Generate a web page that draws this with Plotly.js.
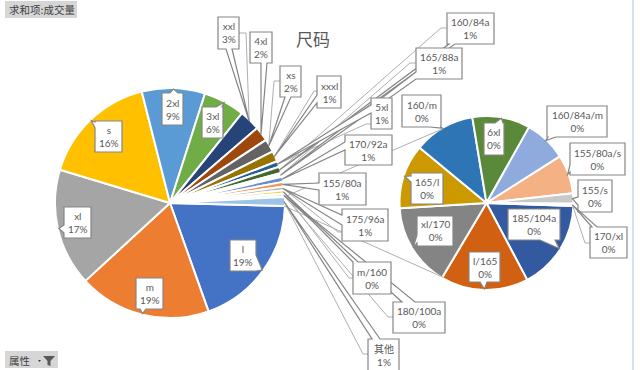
<!DOCTYPE html>
<html><head><meta charset="utf-8">
<script src="https://cdn.plot.ly/plotly-3.0.1.min.js"></script>
<style>html,body{margin:0;padding:0;background:#fff;overflow:hidden}#c{width:640px;height:370px}</style>
</head><body><div id="c"></div>
<script>
// ---- data ----
const sizeLabels = ['l','m','xl','s','2xl','3xl','xxl','4xl','xs','xxxl','5xl','160/84a','165/88a','170/92a','155/80a','175/96a','m/160','180/100a','其他'];
const sizeValues = [19.17,18.61,16.53,16.39,8.89,5.83,2.94,2.06,1.86,1.49,0.80,0.92,0.53,0.72,0.64,0.53,0.47,0.47,1.25];
const sizeColors = ['#4472C4','#ED7D31','#A5A5A5','#FFC000','#5B9BD5','#70AD47','#264478','#9E480E','#636363','#997300','#255E91','#43682B','#F8FAFD','#698ED0','#F1975A','#B7B7B7','#FFCD33','#EEF4FA','#9DC3E6'];
const detailLabels = ['185/104a','l/165','xl/170','165/l','160/m','6xl','160/84a/m','155/80a/s','155/s','170/xl'];
const detailValues = [0.208,0.203,0.193,0.149,0.142,0.134,0.098,0.090,0.024,0.005];
const detailColors = ['#335AA1','#D26012','#848484','#CC9A00','#2E75B6','#5A8A39','#8FAADC','#F4B183','#C9C9C9','#FFD966'];

// ---- layout constants ----
const W=640,H=370;
const bigPie={cx:170,cy:203,r:114,rot:91.5};
const smallPie={cx:486.5,cy:203,r:86,rot:92};
const textColor='#595959', boxLine='#858585', leaderLine='#AFAFAF';
// labels whose wedges run behind another label's box are drawn first
const drawFirst=['160/84a','165/88a','180/100a'];
// box: x0,y0,x1,y1 ; wedge side and its base span ; optional elbow leader [startX,startY,elbowX,elbowY]
const callouts={
 'xxl':{b:[218,17,239,49],s:'b',a:226,e:232,l:[239,33,246,33]},
 '4xl':{b:[250,32,272,63],s:'b',a:261,e:267},
 'xs':{b:[280,66,301,97],s:'b',a:285,e:291,l:[280,81,274,81]},
 'xxxl':{b:[317,76,341,108],s:'l',a:95,e:103,l:[317,91,314,91]},
 '5xl':{b:[371,98,392,129],s:'l',a:105,e:113,l:[371,124,366,124]},
 '160/84a':{b:[447,13,494,44],s:'b',a:449,e:455,l:[447,28,441,28]},
 '165/88a':{b:[416,48,462,79],s:'l',a:72,e:79,l:[416,63,410,63]},
 '170/92a':{b:[345,135,392,165],s:'l',a:142,e:150},
 '155/80a':{b:[319,173,366,205],s:'l',a:183,e:190},
 '175/96a':{b:[342,209,388,241],s:'l',a:215,e:225,l:[342,232,338,232]},
 'm/160':{b:[353,262,391,294],s:'t',a:353,e:358,l:[353,278,349,278]},
 '180/100a':{b:[393,302,445,333],s:'t',a:402,e:415,l:[393,317,388,317]},
 '其他':{b:[368,339,399,373],s:'t',a:372,e:380,l:[368,354,363,354]},
 's':{b:[95,121,122,152],s:'l',a:122,e:128},
 '2xl':{b:[162,93,183,125],s:'t',a:170,e:178},
 '3xl':{b:[202,107,223,138],s:'t',a:216,e:222},
 'xl':{b:[64,207,91,238],s:'l',a:225,e:233},
 'm':{b:[136,278,163,309],s:'b',a:140,e:146},
 'l':{b:[230,240,256,271],s:'r',a:255,e:271},
 '6xl':{b:[484,123,504,155],s:'t',a:495,e:503},
 '165/l':{b:[411,173,443,204],s:'l',a:176,e:182},
 'xl/170':{b:[417,216,453,246],s:'l',a:235,e:243},
 'l/165':{b:[469,252,500,282],s:'b',a:480,e:487},
 '185/104a':{b:[508,209,560,240],s:'b',a:540,e:555},
 '160/m':{b:[402,95,441,127],s:'b',a:430,e:440},
 '160/84a/m':{b:[547,106,607,137],s:'b',a:548,e:556},
 '155/80a/s':{b:[570,143,625,175],s:'l',a:165,e:172},
 '155/s':{b:[578,180,612,212],s:'l',a:197,e:205},
 '170/xl':{b:[590,227,627,258],s:'t',a:592,e:597,l:[590,243,585,243]}
};
const seriesLineEndAngles=[330,210];

// ---- helpers ----
const px=x=>x/W, py=y=>1-y/H;
const pt=(x,y)=>px(x)+' '+py(y);
const total=sizeValues.reduce((a,b)=>a+b,0);
function midAngles(vals,rot){
  const t=vals.reduce((a,b)=>a+b,0);let c=rot;
  return vals.map(v=>{const d=v/t*360;const m=c+d/2;c+=d;return m;});
}
function edge(p,ang){const a=ang*Math.PI/180;return [p.cx+p.r*Math.sin(a),p.cy-p.r*Math.cos(a)];}
function calloutPath(c,t){
  const [x0,y0,x1,y1]=c.b;const P=[];
  P.push(pt(x0,y0));
  if(c.s==='t'){P.push(pt(c.a,y0),pt(t[0],t[1]),pt(c.e,y0));}
  P.push(pt(x1,y0));
  if(c.s==='r'){P.push(pt(x1,c.a),pt(t[0],t[1]),pt(x1,c.e));}
  P.push(pt(x1,y1));
  if(c.s==='b'){P.push(pt(c.e,y1),pt(t[0],t[1]),pt(c.a,y1));}
  P.push(pt(x0,y1));
  if(c.s==='l'){P.push(pt(x0,c.e),pt(t[0],t[1]),pt(x0,c.a));}
  return 'M'+P.join(' L')+' Z';
}
function domainOf(p){const r=p.r+1;return {x:[px(p.cx-r),px(p.cx+r)],y:[py(p.cy+r),py(p.cy-r)]};}

// ---- shapes & annotations ----
const shapes=[],annotations=[],under=[],first=[],over=[];
function addLabels(names,vals,pie){
  const mids=midAngles(vals,pie.rot);
  names.forEach((n,i)=>{
    const c=callouts[n];if(!c)return;
    const t=edge(pie,mids[i]);
    if(c.l){under.push({type:'path',xref:'paper',yref:'paper',layer:'above',
      path:'M'+pt(c.l[0],c.l[1])+' L'+pt(c.l[2],c.l[3])+' L'+pt(t[0],t[1]),
      line:{color:leaderLine,width:1},fillcolor:'rgba(0,0,0,0)'});}
    (drawFirst.includes(n)?first:over).push({type:'path',xref:'paper',yref:'paper',layer:'above',path:calloutPath(c,t),
      line:{color:boxLine,width:1.2},fillcolor:'#fff'});
    const pct=Math.round(vals[i]/total*100)+'%';
    annotations.push({xref:'paper',yref:'paper',x:px((c.b[0]+c.b[2])/2),y:py((c.b[1]+c.b[3])/2-(n==='其他'?1:0)),
      xanchor:'center',yanchor:'middle',showarrow:false,text:n+'<br>'+pct,align:'center',
      font:{family:'Lato, "Noto Sans CJK SC", sans-serif',size:10,color:textColor}});
  });
}
addLabels(sizeLabels,sizeValues,bigPie);
addLabels(detailLabels,detailValues,smallPie);

// series lines from the 其他 slice to the second pie
(function(){
  const last=sizeValues[sizeValues.length-1]/total*360;
  const starts=[bigPie.rot-last,bigPie.rot];
  seriesLineEndAngles.forEach((e,i)=>{
    const a=edge(bigPie,starts[i]),b=edge(smallPie,e);
    under.unshift({type:'line',xref:'paper',yref:'paper',layer:'above',x0:px(a[0]),y0:py(a[1]),x1:px(b[0]),y1:py(b[1]),line:{color:leaderLine,width:1}});
  });
})();
shapes.push(...under,...first,...over);

// pivot-table buttons and frame
function button(x0,y0,x1,y1){shapes.push({type:'rect',xref:'paper',yref:'paper',layer:'above',x0:px(x0),x1:px(x1),y0:py(y0),y1:py(y1),fillcolor:'#D6D6D6',line:{width:0}});}
button(5,1,77,18);button(5,351,58,368);
annotations.push({xref:'paper',yref:'paper',x:px(7),y:py(10),xanchor:'left',yanchor:'middle',showarrow:false,text:'求和项:成交量',font:{family:'"Noto Sans CJK SC"',size:10.5,color:'#404040'}});
annotations.push({xref:'paper',yref:'paper',x:px(7),y:py(360),xanchor:'left',yanchor:'middle',showarrow:false,text:'属性',font:{family:'"Noto Sans CJK SC"',size:10.5,color:'#404040'}});
shapes.push({type:'path',xref:'paper',yref:'paper',layer:'above',path:'M'+pt(43,356)+' L'+pt(55,356)+' L'+pt(50.5,361)+' L'+pt(50.5,366)+' L'+pt(47.5,365)+' L'+pt(47.5,361)+' Z',fillcolor:'#595959',line:{width:0}});
shapes.push({type:'path',xref:'paper',yref:'paper',layer:'above',path:'M'+pt(38,360)+' L'+pt(41,360)+' L'+pt(39.5,362)+' Z',fillcolor:'#404040',line:{width:0}});
shapes.push({type:'line',xref:'paper',yref:'paper',layer:'above',x0:px(633),x1:px(633),y0:0,y1:1,line:{color:'#C9D6E8',width:1.5}});

const pieBase={type:'pie',sort:false,direction:'clockwise',textinfo:'none',hoverinfo:'skip',automargin:false};
const traces=[
 Object.assign({},pieBase,{labels:sizeLabels,values:sizeValues,rotation:bigPie.rot,domain:domainOf(bigPie),marker:{colors:sizeColors,line:{color:'#fff',width:2}}}),
 Object.assign({},pieBase,{labels:detailLabels,values:detailValues,rotation:smallPie.rot,domain:domainOf(smallPie),marker:{colors:detailColors,line:{color:'#fff',width:2}}})
];
Plotly.newPlot('c',traces,{
  width:W,height:H,margin:{l:0,r:0,t:0,b:0},showlegend:false,paper_bgcolor:'#fff',plot_bgcolor:'#fff',
  title:{text:'尺码',x:313/W,y:py(40),xanchor:'center',yanchor:'middle',font:{family:'"Noto Sans CJK SC"',size:17,color:'#595959'}},
  shapes:shapes,annotations:annotations
},{displayModeBar:false,staticPlot:true});
</script></body></html>
